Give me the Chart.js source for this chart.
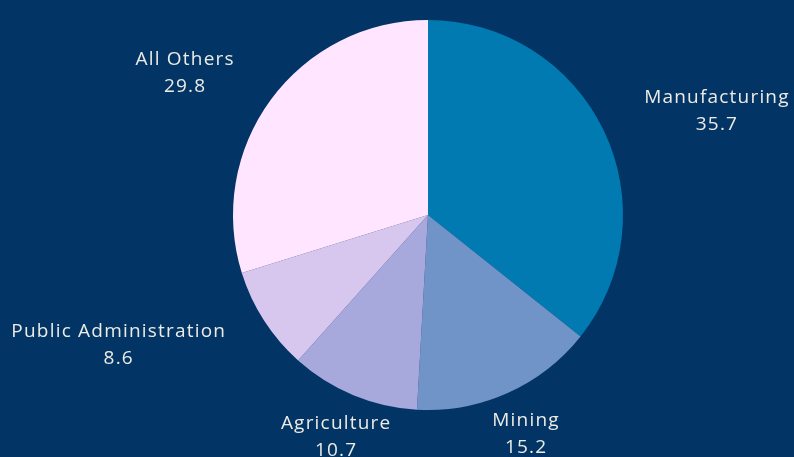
<!doctype html>
<html lang="en">
  <head>
    <meta charset="utf-8">
    <title>Pie</title>
    <script src="https://cdn.jsdelivr.net/npm/chart.js"></script>
    <style>
      html, body { margin: 0; padding: 0; background: #023566; }
    </style>
  </head>
  <body>
    <canvas id="pie" width="794" height="457"></canvas>
    <script>
    // data
    const sectors = ['Manufacturing', 'Mining', 'Agriculture', 'Public Administration', 'All Others'];
    const shares = [35.7, 15.2, 10.7, 8.6, 29.8];
    const sliceColors = ['#007ab0', '#7093c8', '#a7a8db', '#d7c6ed', '#ffe5ff'];

    // draws "name / value" outside each slice
    const outsideLabels = {
      id: 'outsideLabels',
      afterDatasetsDraw(chart) {
        const ctx = chart.ctx;
        const meta = chart.getDatasetMeta(0);
        ctx.save();
        ctx.fillStyle = '#ecebe4';
        ctx.font = '19px "Open Sans"';
        ctx.letterSpacing = '1.2px';
        ctx.textBaseline = 'middle';
        meta.data.forEach(function(arc, i) {
          const mid = (arc.startAngle + arc.endAngle) / 2;
          const r = arc.outerRadius + 45;
          const x = arc.x + Math.cos(mid) * r;
          const y = arc.y + Math.sin(mid) * r;
          const c = Math.cos(mid);
          const lines = [sectors[i], String(shares[i])];
          const w = Math.max.apply(null, lines.map(t => ctx.measureText(t).width));
          let cx = x;
          if (c > 0.5) cx = x + w / 2;
          else if (c < -0.5) cx = x - w / 2;
          ctx.textAlign = 'center';
          ctx.fillText(lines[0], cx, y - 13);
          ctx.fillText(lines[1], cx, y + 14);
        });
        ctx.restore();
      }
    };

    new Chart(document.getElementById('pie'), {
      type: 'pie',
      data: {
        labels: sectors,
        datasets: [{
          data: shares,
          backgroundColor: sliceColors,
          borderWidth: 0
        }]
      },
      options: {
        responsive: false,
        animation: false,
        layout: { padding: { top: 20, bottom: 47, left: 62, right: 0 } },
        plugins: {
          legend: { display: false },
          tooltip: { enabled: false }
        }
      },
      plugins: [outsideLabels]
    });
    </script>
  </body>
</html>
